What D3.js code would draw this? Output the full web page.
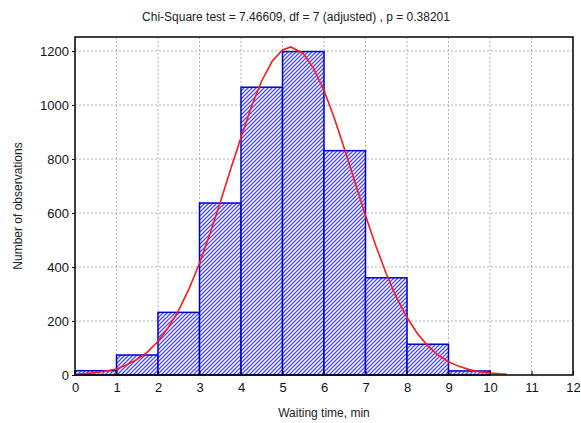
<!DOCTYPE html>
<html>
<head>
<meta charset="utf-8">
<script src="https://cdn.jsdelivr.net/npm/d3@7"></script>
<style>
  body { margin: 0; background: #fff; }
  svg { display: block; font-family: "Liberation Sans", Arial, sans-serif; }
  .grid line { stroke: #b4b4b4; stroke-dasharray: 2,2; stroke-width: 1; }
  .tick text { fill: #111; font-size: 13px; }
</style>
</head>
<body>
<div id="chart"></div>
<script>
// histogram bins (minutes) and counts
var binStarts = [0, 1, 2, 3, 4, 5, 6, 7, 8, 9];
var counts = [16, 74, 232, 637, 1066, 1198, 831, 360, 114, 15];

// fitted normal curve
var curveX = [0, 0.25, 0.5, 0.75, 1, 1.25, 1.5, 1.75, 2, 2.25, 2.5, 2.75, 3, 3.25, 3.5, 3.75,
              4, 4.25, 4.5, 4.75, 5, 5.2, 5.5, 5.75, 6, 6.25, 6.5, 6.75, 7, 7.25, 7.5, 7.75,
              8, 8.25, 8.5, 8.75, 9, 9.25, 9.5, 9.75, 10, 10.25, 10.4];
var curveY = [3, 5, 9, 15, 22, 38, 58, 86, 125, 176, 240, 320, 414, 522, 640, 762,
              880, 994, 1090, 1162, 1204, 1215, 1191, 1136, 1054, 951, 834, 712, 591, 478, 375, 286,
              213, 154, 108, 74, 49, 32, 20, 12, 7, 4, 3];

var xTicks = [0, 1, 2, 3, 4, 5, 6, 7, 8, 9, 10, 11, 12];
var yTicks = [0, 200, 400, 600, 800, 1000, 1200];

var width = 581, height = 423,
    margin = {top: 37, right: 8, bottom: 48, left: 75};

var svg = d3.select('div#chart').append('svg')
    .attr('width', width)
    .attr('height', height);

var xScale = d3.scaleLinear().domain([0, 12]).range([margin.left, width - margin.right]);
var yScale = d3.scaleLinear().domain([0, 1252]).range([height - margin.bottom, margin.top]);

// hatch pattern for the bars (blue "////" on white)
var defs = svg.append('defs');
var pat = defs.append('pattern')
    .attr('id', 'hatch')
    .attr('patternUnits', 'userSpaceOnUse')
    .attr('width', 4).attr('height', 4);
pat.append('rect').attr('width', 4).attr('height', 4).attr('fill', '#fff');
pat.append('path')
    .attr('d', 'M-1,1 l2,-2 M0,4 l4,-4 M3,5 l2,-2')
    .attr('stroke', '#4848ff')
    .attr('stroke-width', 1.25);

// grid
var grid = svg.append('g').attr('class', 'grid');
grid.selectAll('line.v').data(xTicks.slice(1, -1)).enter().append('line')
    .attr('class', 'v')
    .attr('x1', d => xScale(d)).attr('x2', d => xScale(d))
    .attr('y1', margin.top).attr('y2', height - margin.bottom);
grid.selectAll('line.h').data(yTicks.slice(1)).enter().append('line')
    .attr('class', 'h')
    .attr('x1', margin.left).attr('x2', width - margin.right)
    .attr('y1', d => yScale(d)).attr('y2', d => yScale(d));

// bars
svg.append('g').selectAll('rect').data(binStarts).enter().append('rect')
    .attr('x', d => xScale(d))
    .attr('width', d => xScale(d + 1) - xScale(d))
    .attr('y', (d, i) => yScale(counts[i]))
    .attr('height', (d, i) => yScale(0) - yScale(counts[i]))
    .attr('fill', 'url(#hatch)')
    .attr('stroke', '#0000cc')
    .attr('stroke-width', 1.5);

// fitted curve
var line = d3.line()
    .x((d, i) => xScale(curveX[i]))
    .y(d => yScale(d));
svg.append('path')
    .datum(curveY)
    .attr('d', line)
    .attr('fill', 'none')
    .attr('stroke', '#ff1a1a')
    .attr('stroke-width', 1.6);

// axes
var xAxis = d3.axisBottom(xScale).tickValues(xTicks).tickSize(-4).tickPadding(8).tickFormat(d3.format('d'));
var yAxis = d3.axisLeft(yScale).tickValues(yTicks).tickSize(3).tickPadding(3).tickFormat(d3.format('d'));

svg.append('g')
    .attr('transform', 'translate(0,' + (height - margin.bottom) + ')')
    .call(xAxis)
    .call(g => g.select('.domain').remove());
svg.append('g')
    .attr('transform', 'translate(' + margin.left + ',0)')
    .call(yAxis)
    .call(g => g.select('.domain').remove());
svg.selectAll('.tick line').attr('stroke', '#000');

// frame
svg.append('rect')
    .attr('x', margin.left).attr('y', margin.top)
    .attr('width', width - margin.left - margin.right)
    .attr('height', height - margin.top - margin.bottom)
    .attr('fill', 'none')
    .attr('stroke', '#000')
    .attr('stroke-width', 1.5);

// texts
svg.append('text')
    .attr('x', 296).attr('y', 21)
    .attr('text-anchor', 'middle')
    .attr('font-size', 12)
    .attr('fill', '#222')
    .text('Chi-Square test = 7.46609, df = 7 (adjusted) , p = 0.38201');

svg.append('text')
    .attr('x', (margin.left + width - margin.right) / 2).attr('y', 417)
    .attr('text-anchor', 'middle')
    .attr('font-size', 12)
    .attr('fill', '#222')
    .text('Waiting time, min');

svg.append('text')
    .attr('transform', 'translate(22,' + ((margin.top + height - margin.bottom) / 2) + ') rotate(-90)')
    .attr('text-anchor', 'middle')
    .attr('font-size', 12)
    .attr('fill', '#222')
    .text('Number of observations');
</script>
</body>
</html>
